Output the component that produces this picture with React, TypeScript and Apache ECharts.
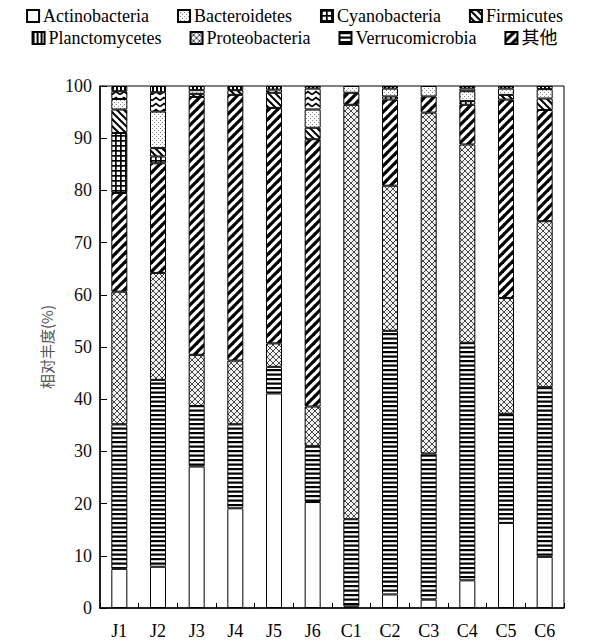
import React, { useEffect, useRef } from "react";
import * as echarts from "echarts";

const categories = ["J1", "J2", "J3", "J4", "J5", "J6", "C1", "C2", "C3", "C4", "C5", "C6"];
const yTicks = [0, 10, 20, 30, 40, 50, 60, 70, 80, 90, 100];

// stacked bottom -> top
const actinobacteria = [7.5, 7.9, 27.1, 19.1, 41.1, 20.3, 0.3, 2.6, 1.6, 5.3, 16.3, 9.8];
const verrucomicrobia = [27.7, 35.8, 11.6, 16.1, 5.1, 10.7, 16.7, 50.5, 28.0, 45.5, 20.9, 32.5];
const proteobacteria = [25.4, 20.5, 9.8, 12.2, 4.5, 7.6, 79.4, 27.8, 65.3, 38.0, 22.2, 31.8];
const others = [18.9, 21.0, 49.4, 50.9, 45.1, 51.2, 2.3, 16.5, 3.1, 7.6, 38.0, 21.3];
const cyanobacteria = [11.5, 1.3, 0, 0, 0, 0, 0, 0.6, 0, 0.7, 0, 0];
const firmicutes = [4.5, 1.6, 0.6, 0.9, 2.9, 2.2, 0, 0, 0, 0, 0.9, 2.2];
const bacteroidetes = [2.0, 7.0, 0.7, 0, 0, 3.5, 1.3, 1.5, 2.0, 1.9, 1.2, 1.8];
const unlabelled = [1.5, 3.7, 0, 0, 0.6, 4.0, 0, 0, 0, 0.5, 0, 0];
const planctomycetes = [1.0, 1.2, 0.8, 0.8, 0.7, 0.5, 0, 0.5, 0, 0.5, 0.5, 0.6];

const legendRow1 = ["Actinobacteria", "Bacteroidetes", "Cyanobacteria", "Firmicutes"];
const legendRow2 = ["Planctomycetes", "Proteobacteria", "Verrucomicrobia", "其他"];

const SERIF = "Liberation Serif, Times New Roman, Noto Sans CJK SC, serif";

function tile(w: number, h: number, draw: (ctx: CanvasRenderingContext2D) => void, bg = "#fff") {
  const c = document.createElement("canvas");
  c.width = w;
  c.height = h;
  const ctx = c.getContext("2d") as CanvasRenderingContext2D;
  ctx.fillStyle = bg;
  ctx.fillRect(0, 0, w, h);
  draw(ctx);
  return { image: c.toDataURL(), repeat: "repeat", imageWidth: w, imageHeight: h } as any;
}

function diag(ctx: CanvasRenderingContext2D, s: number, lw: number, up: boolean, color = "#000") {
  ctx.strokeStyle = color;
  ctx.lineWidth = lw;
  for (let k = -1; k <= 1; k++) {
    ctx.beginPath();
    if (up) {
      ctx.moveTo(-1, s + 1 + k * s);
      ctx.lineTo(s + 1, -1 + k * s);
    } else {
      ctx.moveTo(-1, -1 + k * s);
      ctx.lineTo(s + 1, s + 1 + k * s);
    }
    ctx.stroke();
  }
}

export default function App() {
  const ref = useRef<HTMLDivElement>(null);
  useEffect(() => {
    if (!ref.current) return;
    const chart = echarts.init(ref.current, undefined, { renderer: "svg" });

    const pHoriz = tile(6, 9, (ctx) => {
      ctx.fillStyle = "#000";
      ctx.fillRect(0, 0, 6, 2.2);
      ctx.fillRect(0, 4.5, 6, 2.2);
    });
    const pSlash = tile(9, 9, (ctx) => diag(ctx, 9, 3.2, true));
    const pBack = tile(7, 7, (ctx) => diag(ctx, 7, 2, false));
    const pCross = tile(6, 6, (ctx) => {
      diag(ctx, 6, 0.9, true, "#333");
      diag(ctx, 6, 0.9, false, "#333");
    }, "#f2f2f2");
    const pGrid = tile(5, 5, (ctx) => {
      ctx.fillStyle = "#000";
      ctx.fillRect(0, 0, 5, 1.7);
      ctx.fillRect(0, 0, 1.7, 5);
    });
    const pDots = tile(4, 4, (ctx) => {
      ctx.fillStyle = "#888";
      ctx.fillRect(0, 0, 1, 1);
      ctx.fillRect(2, 2, 1, 1);
    });
    const pChev = tile(8, 6, (ctx) => {
      ctx.strokeStyle = "#000";
      ctx.lineWidth = 1.8;
      ctx.beginPath();
      ctx.moveTo(0, 4.5);
      ctx.lineTo(4, 1.5);
      ctx.lineTo(8, 4.5);
      ctx.stroke();
    });
    const pVert = tile(4, 4, (ctx) => {
      ctx.fillStyle = "#000";
      ctx.fillRect(0, 0, 2, 4);
    });

    const defs: [string, number[], any][] = [
      ["Actinobacteria", actinobacteria, "#ffffff"],
      ["Verrucomicrobia", verrucomicrobia, pHoriz],
      ["Proteobacteria", proteobacteria, pCross],
      ["其他", others, pSlash],
      ["Cyanobacteria", cyanobacteria, pGrid],
      ["Firmicutes", firmicutes, pBack],
      ["Bacteroidetes", bacteroidetes, pDots],
      ["unlabelled", unlabelled, pChev],
      ["Planctomycetes", planctomycetes, pVert],
    ];

    const legendCommon = {
      left: "center",
      itemWidth: 12,
      itemHeight: 12,
      itemGap: 28,
      icon: "rect",
      padding: 0,
      textStyle: { fontFamily: SERIF, fontSize: 18, color: "#000", padding: [0, 0, 0, -1] },
    };

    chart.setOption({
      animation: false,
      backgroundColor: "#fff",
      legend: [
        { ...legendCommon, top: 7, data: legendRow1 },
        { ...legendCommon, top: 29, data: legendRow2 },
      ],
      grid: {
        left: 100,
        right: 25,
        top: 86,
        bottom: 33,
        show: true,
        borderColor: "#000",
        borderWidth: 1,
        containLabel: false,
      },
      xAxis: {
        type: "category",
        data: categories,
        axisLine: { show: true, lineStyle: { color: "#000", width: 1.5 } },
        axisTick: { show: true, inside: true, length: 5, lineStyle: { color: "#000" } },
        axisLabel: { fontFamily: SERIF, fontSize: 18, color: "#000", margin: 14 },
      },
      yAxis: {
        type: "value",
        min: yTicks[0],
        max: yTicks[yTicks.length - 1],
        interval: 10,
        name: "相对丰度(%)",
        nameLocation: "middle",
        nameRotate: 90,
        nameGap: 46,
        nameTextStyle: { fontFamily: "Noto Sans CJK SC, sans-serif", fontSize: 15, color: "#555" },
        axisLine: { show: true, lineStyle: { color: "#000", width: 1.5 } },
        axisTick: { show: true, inside: true, length: 7, lineStyle: { color: "#000" } },
        axisLabel: { fontFamily: SERIF, fontSize: 18, color: "#111", margin: 8 },
        splitLine: { show: false },
      },
      series: defs.map(([name, values, color]) => ({
        name,
        type: "bar",
        stack: "total",
        barWidth: 16,
        data: values.map((v) => (v === 0 ? null : v)),
        itemStyle: { color, borderColor: "#000", borderWidth: 1 },
        emphasis: { disabled: true },
      })),
    });
    return () => chart.dispose();
  }, []);
  return <div ref={ref} style={{ position: "fixed", left: 0, top: 0, width: 589, height: 641 }} />;
}
